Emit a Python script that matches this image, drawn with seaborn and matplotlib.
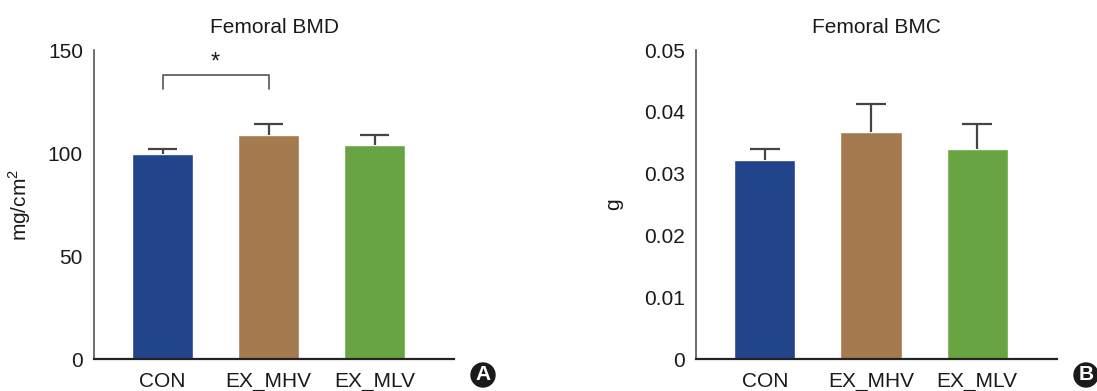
import pandas as pd
import matplotlib
matplotlib.use("Agg")
import matplotlib.pyplot as plt
import seaborn as sns
from matplotlib.patches import Circle

groups = ["CON", "EX_MHV", "EX_MLV"]
colors = ["#22448A", "#A67A4F", "#68A542"]

bmd_mean = [99.6, 108.8, 104.0]
bmd_err = [2.4, 5.2, 4.7]
bmc_mean = [0.0322, 0.0367, 0.0340]
bmc_err = [0.0018, 0.0045, 0.0041]

sns.set_style("white")
plt.rcParams["font.family"] = ["Liberation Sans", "DejaVu Sans"]
plt.rcParams["font.size"] = 15
plt.rcParams["text.color"] = "#1a1a1a"
plt.rcParams["axes.labelcolor"] = "#1a1a1a"
plt.rcParams["xtick.color"] = "#1a1a1a"
plt.rcParams["ytick.color"] = "#1a1a1a"
plt.rcParams["mathtext.fontset"] = "custom"
plt.rcParams["mathtext.rm"] = "Liberation Sans"

fig = plt.figure(figsize=(10.97, 3.91), dpi=100)
ax1 = fig.add_axes([0.0857, 0.0818, 0.3282, 0.7903])
ax2 = fig.add_axes([0.6347, 0.0818, 0.3286, 0.7903])


def draw_panel(ax, means, errs, title, ylabel, ymax, yticks, yticklabels, label_x):
    df = pd.DataFrame({"group": groups, "value": means})
    sns.barplot(data=df, x="group", y="value", hue="group", palette=colors,
                width=0.575, saturation=1, legend=False, errorbar=None, ax=ax)
    # upper half error bars only
    xs = list(range(len(groups)))
    tops = [m + e for m, e in zip(means, errs)]
    ax.vlines(xs, means, tops, color="#444444", lw=1.6, zorder=1)
    ax.hlines(tops, [x - 0.14 for x in xs], [x + 0.14 for x in xs],
              color="#444444", lw=1.6, zorder=1)
    ax.set_xlim(-0.646, 2.75)
    ax.set_ylim(0, ymax)
    ax.set_yticks(yticks)
    ax.set_yticklabels(yticklabels)
    ax.set_xlabel("")
    ax.set_ylabel(ylabel)
    ax.yaxis.set_label_coords(label_x, 0.5)
    ax.set_title(title, fontsize=15, pad=12)
    sns.despine(ax=ax)
    ax.spines["left"].set_color("#555555")
    ax.spines["left"].set_linewidth(1.2)
    ax.spines["bottom"].set_color("#222222")
    ax.spines["bottom"].set_linewidth(1.6)
    ax.tick_params(axis="y", direction="in", length=7, width=1.2, color="#555555",
                   labelcolor="#1a1a1a", pad=8)
    ax.tick_params(axis="x", length=0, pad=9, labelcolor="#1a1a1a")


draw_panel(ax1, bmd_mean, bmd_err, "Femoral BMD", "mg/cm$^2$", 150,
           [0, 50, 100, 150], ["0", "50", "100", "150"], -0.169)
draw_panel(ax2, bmc_mean, bmc_err, "Femoral BMC", "g", 0.05,
           [0, 0.01, 0.02, 0.03, 0.04, 0.05], ["0", "0.01", "0.02", "0.03", "0.04", "0.05"], -0.203)

# significance bracket
ax1.plot([0, 0, 1, 1], [131, 138, 138, 131], color="#555555", lw=1.2)
ax1.text(0.5, 138.5, "*", ha="center", va="bottom", fontsize=17)

# panel labels
for x, lab in [(483, "A"), (1086, "B")]:
    fx, fy = x / 1097, 1 - 375 / 391
    fig.patches.append(Circle((x, 391 - 375), 12, transform=None, color="#1a1a1a"))
    fig.text(fx, fy, lab, ha="center", va="center", color="white",
             fontsize=15, fontweight="bold")

fig.savefig("out.png", dpi=100)
